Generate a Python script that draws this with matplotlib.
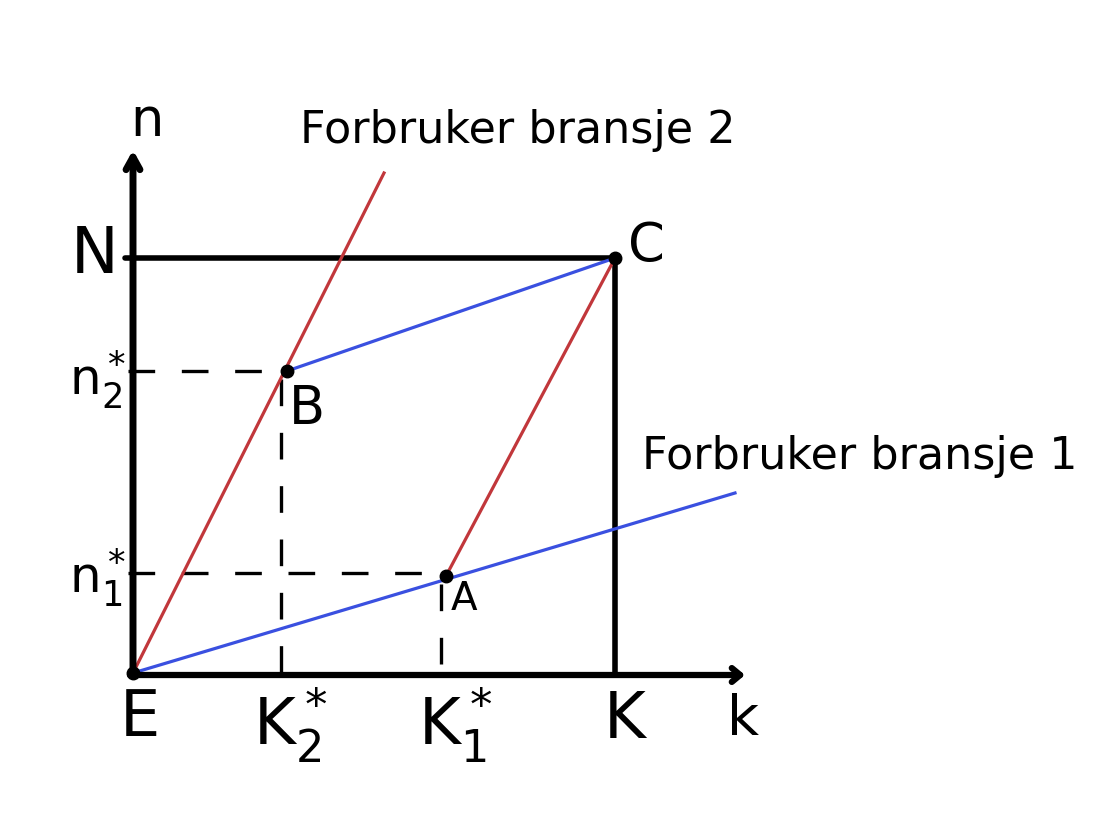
import matplotlib.pyplot as plt

# Edgeworth-box style diagram, coordinates measured from E (origin)
K_total = 482
N_total = 415

# points: E, A, B, C
k_star = [0, 313, 154, 482]
n_star = [0, 97, 302, 415]

# consumer lines (start, end)
red_k = [0, 251]
red_n = [0, 500]
blue_k = [0, 602]
blue_n = [0, 180]

axis_k_end = 612
axis_n_end = 523

plt.rcParams['mathtext.default'] = 'regular'
plt.rcParams['font.family'] = ['DejaVu Sans']

fig = plt.figure(figsize=(11.01, 8.15), dpi=100)
ax = fig.add_axes([0, 0, 1, 1])
ax.set_xlim(-133, 968)
ax.set_ylim(-142, 673)
ax.axis('off')

black = '#000000'
red = '#c1373b'
blue = '#3a50e0'

# axes with open arrow heads
ax.annotate('', xy=(0, axis_n_end), xytext=(0, -3),
            arrowprops=dict(arrowstyle='->,head_width=0.5,head_length=0.9',
                            lw=5, color=black, shrinkA=0, shrinkB=0))
ax.annotate('', xy=(axis_k_end, -2), xytext=(-3, -2),
            arrowprops=dict(arrowstyle='->,head_width=0.5,head_length=0.6',
                            lw=4.5, color=black, shrinkA=0, shrinkB=0))

# box: N line and K line
ax.plot([-8, K_total], [N_total, N_total], color=black, lw=4, solid_capstyle='round')
ax.plot([K_total, K_total], [N_total, -2], color=black, lw=4, solid_capstyle='round')

# dashed guides
E, A, B, C = list(zip(k_star, n_star))
dash = (0, (8, 8))
ax.plot([-5, B[0]], [B[1], B[1]], color=black, lw=2.4, ls=dash)
ax.plot([B[0] - 6, B[0] - 6], [B[1] - 8, 0], color=black, lw=2.4, ls=dash)
ax.plot([-5, A[0]], [A[1] + 3, A[1] + 3], color=black, lw=2.4, ls=dash)
ax.plot([A[0] - 5, A[0] - 5], [A[1] - 8, 0], color=black, lw=2.4, ls=dash)

# consumer lines
ax.plot(red_k, red_n, color=red, lw=2.3)
ax.plot([A[0], C[0]], [A[1], C[1]], color=red, lw=2.3)
ax.plot(blue_k, blue_n, color=blue, lw=2.3)
ax.plot([B[0], C[0]], [B[1], C[1]], color=blue, lw=2.3)

# points
ax.plot(k_star, n_star, 'o', color=black, ms=9)

# labels
big = 46
ax.text(14, 552, 'n', fontsize=38, ha='center', va='center')
ax.text(-38, 418, 'N', fontsize=big, ha='center', va='center')
ax.text(-35, 293, r'$n_2^*$', fontsize=36, ha='center', va='center')
ax.text(-35, 95, r'$n_1^*$', fontsize=36, ha='center', va='center')
ax.text(513, 427, 'C', fontsize=38, ha='center', va='center')
ax.text(174, 264, 'B', fontsize=38, ha='center', va='center')
ax.text(331, 74, 'A', fontsize=28, ha='center', va='center')
ax.text(7, -45, 'E', fontsize=big, ha='center', va='center')
ax.text(157, -52, r'$K_2^*$', fontsize=big, ha='center', va='center')
ax.text(322, -52, r'$K_1^*$', fontsize=big, ha='center', va='center')
ax.text(492, -47, 'K', fontsize=big, ha='center', va='center')
ax.text(610, -47, 'k', fontsize=40, ha='center', va='center')

ax.text(167, 543, 'Forbruker bransje 2', fontsize=32, ha='left', va='center')
ax.text(509, 216, 'Forbruker bransje 1', fontsize=32, ha='left', va='center')

fig.savefig('out.png', dpi=100)
